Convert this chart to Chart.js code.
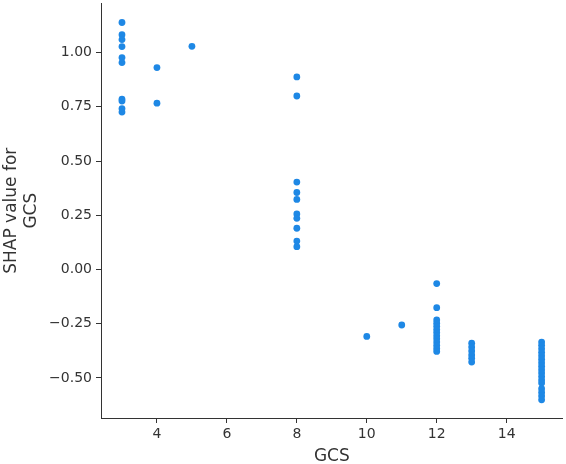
<!DOCTYPE html>
<html>
<head>
<meta charset="utf-8">
<script src="https://cdn.jsdelivr.net/npm/chart.js@4.4.0/dist/chart.umd.min.js"></script>
<style>
  html, body { margin: 0; padding: 0; background: #fff; }
  #wrap { width: 566px; height: 464px; }
</style>
</head>
<body>
<div id="wrap"><canvas id="chart" width="566" height="464"></canvas></div>
<script>
// ==== data ====
const gcs = [
  3, 3, 3, 3, 3, 3, 3, 3, 3, 3,
  4, 4,
  5,
  8, 8, 8, 8, 8, 8, 8, 8, 8, 8,
  10,
  11,
  12, 12, 12, 12, 12, 12, 12, 12, 12, 12, 12, 12, 12,
  13, 13, 13, 13, 13, 13,
  15, 15, 15, 15, 15, 15, 15, 15, 15, 15, 15, 15, 15, 15, 15, 15, 15
];
const shap = [
  1.139, 1.083, 1.060, 1.028, 0.977, 0.954, 0.786, 0.777, 0.742, 0.726,
  0.931, 0.767,
  1.029,
  0.888, 0.800, 0.403, 0.355, 0.323, 0.256, 0.236, 0.190, 0.131, 0.105,
  -0.309,
  -0.256,
  -0.065, -0.176, -0.233, -0.248, -0.262, -0.277, -0.291, -0.306, -0.320, -0.335, -0.350, -0.364, -0.378,
  -0.340, -0.358, -0.376, -0.394, -0.410, -0.427,
  -0.335, -0.350, -0.366, -0.382, -0.398, -0.414, -0.430, -0.446, -0.462, -0.478, -0.494, -0.510, -0.524,
  -0.550, -0.567, -0.584, -0.601
];
const xTicks = [4, 6, 8, 10, 12, 14];
const yTicks = [-0.5, -0.25, 0, 0.25, 0.5, 0.75, 1.0];

const textColor = '#333333';
const points = gcs.map((g, i) => ({ x: g, y: shap[i] }));

new Chart(document.getElementById('chart').getContext('2d'), {
  type: 'scatter',
  data: {
    datasets: [{
      data: points,
      backgroundColor: '#1E88E5',
      borderWidth: 0,
      pointRadius: 3.4,
      pointHoverRadius: 3.4
    }]
  },
  options: {
    responsive: false,
    animation: false,
    layout: { padding: { left: 0, top: 3, right: 3, bottom: 0 } },
    plugins: { legend: { display: false }, tooltip: { enabled: false } },
    scales: {
      x: {
        type: 'linear',
        min: 2.4,
        max: 15.6,
        afterFit: s => { s.height = 46; s.paddingLeft = 0; s.paddingRight = 0; },
        afterBuildTicks: s => { s.ticks = xTicks.map(v => ({ value: v })); },
        grid: { drawOnChartArea: false, drawTicks: true, tickLength: 5, color: textColor },
        border: { display: true, color: textColor, width: 1 },
        ticks: { color: textColor, font: { family: 'DejaVu Sans', size: 14 }, padding: 3 },
        title: {
          display: true, text: 'GCS', color: textColor,
          font: { family: 'DejaVu Sans', size: 17, lineHeight: 1 },
          padding: { top: 0, bottom: -1 }
        }
      },
      y: {
        type: 'linear',
        min: -0.685,
        max: 1.227,
        afterFit: s => { s.width = 101; s.paddingTop = 0; s.paddingBottom = 0; },
        afterBuildTicks: s => { s.ticks = yTicks.map(v => ({ value: v })); },
        grid: { drawOnChartArea: false, drawTicks: true, tickLength: 5, color: textColor },
        border: { display: true, color: textColor, width: 1 },
        ticks: {
          color: textColor, font: { family: 'DejaVu Sans', size: 14 }, padding: 4,
          callback: v => v.toFixed(2).replace('-', '\u2212')
        },
        title: {
          display: true, text: ['SHAP value for', 'GCS'], color: textColor,
          font: { family: 'DejaVu Sans', size: 17, lineHeight: 1.2 },
          padding: { top: 1, bottom: 0 }
        }
      }
    }
  }
});
</script>
</body>
</html>
